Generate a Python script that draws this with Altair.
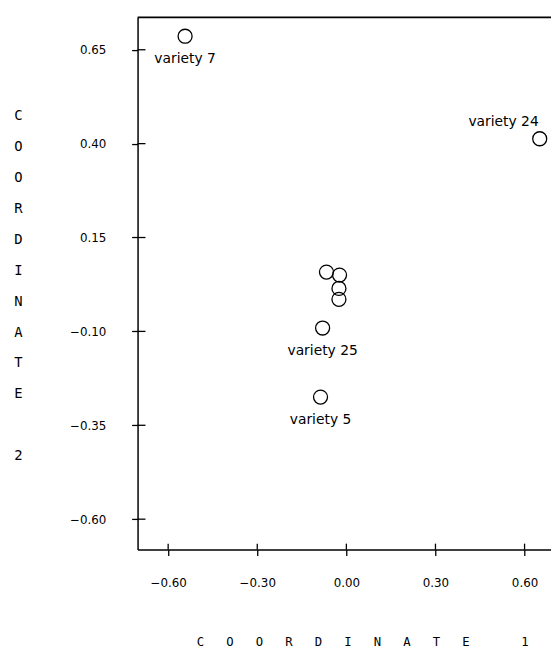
import altair as alt
import pandas as pd

# ---- data ----
coord1 = [-0.543, 0.651, -0.067, -0.023, -0.025, -0.025, -0.080, -0.087]
coord2 = [0.686, 0.413, 0.058, 0.050, 0.0145, -0.0145, -0.091, -0.275]
labels = ["variety 7", "variety 24", "", "", "", "", "variety 25", "variety 5"]
label_side = ["below", "above", "", "", "", "", "below", "below"]

x_ticks = [-0.60, -0.30, 0.00, 0.30, 0.60]
y_ticks = [0.65, 0.40, 0.15, -0.10, -0.35, -0.60]
x_domain = [-0.703, 0.689]
y_domain = [-0.681, 0.736]

BLANK = "\u2800"
NB = "\u00a0"
y_title_letters = ["C", "O", "O", "R", "D", "I", "N", "A", "T", "E", BLANK, "2"]
x_title_letters = ["C", "O", "O", "R", "D", "I", "N", "A", "T", "E", NB, "1"]

df = pd.DataFrame({"coord1": coord1, "coord2": coord2,
                   "label": labels, "side": label_side})
df_xt = pd.DataFrame({"coord1": x_ticks})
df_yt = pd.DataFrame({"coord2": y_ticks})
df_one = pd.DataFrame({"k": [0]})

x_title = (NB * 3).join(x_title_letters)

xs = alt.Scale(domain=x_domain, nice=False, zero=False)
ys = alt.Scale(domain=y_domain, nice=False, zero=False)

x_axis = alt.Axis(values=x_ticks, format=".2f", labelPadding=22,
                  title=x_title, titleX=227, titleY=87, titleAlign="center",
                  titleBaseline="top", titleFont="DejaVu Sans Mono",
                  titleFontSize=12.4, titleFontWeight="normal", titleLimit=1000)
y_axis = alt.Axis(values=y_ticks, format=".2f", labelPadding=26,
                  title=y_title_letters, titleAngle=0, titleX=-121, titleY=92,
                  titleAlign="center", titleBaseline="top",
                  titleFont="DejaVu Sans Mono", titleFontSize=14,
                  titleFontWeight="normal", titleLineHeight=31.3, titleLimit=1000)

base = alt.Chart(df)

points = base.mark_point(shape="circle", filled=False, size=200,
                         color="black", strokeWidth=1.3, opacity=1).encode(
    x=alt.X("coord1:Q", scale=xs, axis=x_axis),
    y=alt.Y("coord2:Q", scale=ys, axis=y_axis),
)

below = base.transform_filter(alt.datum.side == "below").mark_text(
    font="DejaVu Sans", fontSize=14, dy=23, align="center",
    baseline="middle", color="black").encode(
    x=alt.X("coord1:Q", scale=xs), y=alt.Y("coord2:Q", scale=ys), text="label:N")

above = base.transform_filter(alt.datum.side == "above").mark_text(
    font="DejaVu Sans", fontSize=14, dx=-1, dy=-17, align="right",
    baseline="middle", color="black").encode(
    x=alt.X("coord1:Q", scale=xs), y=alt.Y("coord2:Q", scale=ys), text="label:N")

top_line = alt.Chart(df_one).mark_rule(color="black", strokeWidth=1.8).encode(
    x=alt.XDatum(x_domain[0], scale=xs),
    x2=alt.X2Datum(x_domain[1]),
    y=alt.YDatum(y_domain[1], scale=ys),
)

y_inner = alt.Chart(df_yt).mark_rule(color="black", strokeWidth=1.3, x2Offset=8).encode(
    y=alt.Y("coord2:Q", scale=ys),
    x=alt.XDatum(x_domain[0], scale=xs),
    x2=alt.X2Datum(x_domain[0]),
)

x_inner = alt.Chart(df_xt).mark_rule(color="black", strokeWidth=1.3, y2Offset=-6).encode(
    x=alt.X("coord1:Q", scale=xs),
    y=alt.YDatum(y_domain[0], scale=ys),
    y2=alt.Y2Datum(y_domain[0]),
)

chart = alt.layer(top_line, y_inner, x_inner, points, below, above).properties(
    width=418, height=538,
    padding={"left": 131, "top": 6, "right": 0, "bottom": 101},
    autosize=alt.AutoSizeParams(type="none"),
).configure_view(stroke=None).configure_axis(
    domainColor="black", domainWidth=1.5, tickColor="black", tickWidth=1.3,
    tickSize=6, labelFont="DejaVu Sans", labelFontSize=12, labelColor="black",
    titleColor="black", grid=False,
)

chart.save("out.html", embed_options={"renderer": "svg", "actions": False})
